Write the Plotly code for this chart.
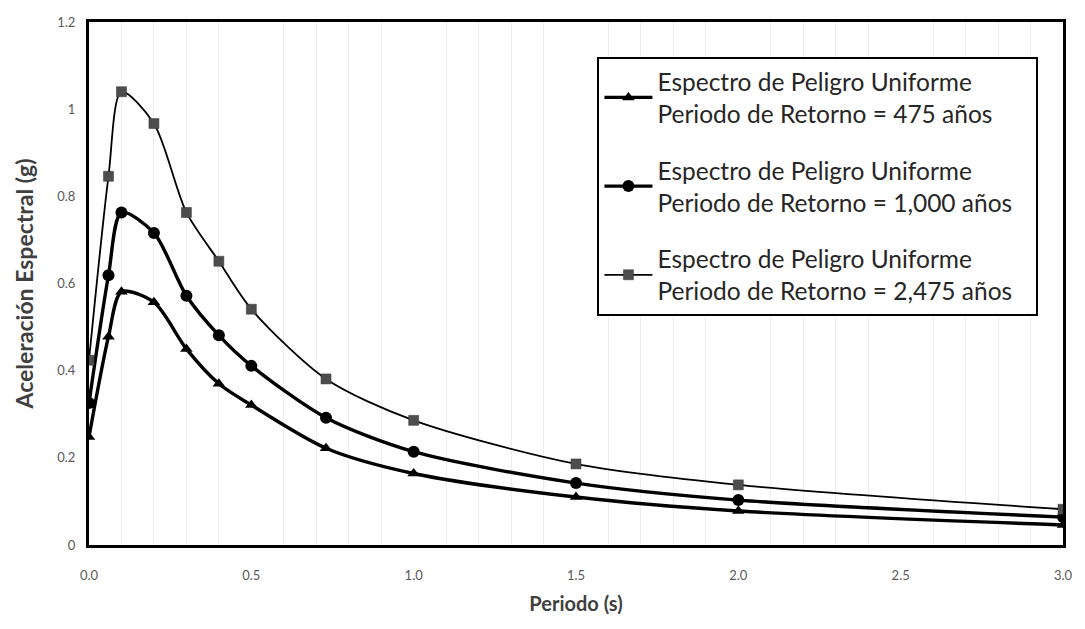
import plotly.graph_objects as go

periodo = [0.0, 0.06, 0.1, 0.2, 0.3, 0.4, 0.5, 0.73, 1.0, 1.5, 2.0, 3.0]
sa_475 = [0.248, 0.478, 0.581, 0.557, 0.450, 0.370, 0.321, 0.222, 0.164, 0.110, 0.078, 0.046]
sa_1000 = [0.326, 0.619, 0.763, 0.716, 0.572, 0.481, 0.411, 0.292, 0.214, 0.142, 0.103, 0.064]
sa_2475 = [0.424, 0.846, 1.040, 0.967, 0.763, 0.651, 0.541, 0.381, 0.286, 0.186, 0.138, 0.082]

PAD = "&nbsp;&nbsp;&nbsp;"
names = [
    "Espectro de Peligro Uniforme<br>Periodo de Retorno = 475 años",
    "Espectro de Peligro Uniforme<br>Periodo de Retorno = 1,000 años",
    "Espectro de Peligro Uniforme<br>Periodo de Retorno = 2,475 años" + PAD,
]

FONT = "Lato"

fig = go.Figure()
fig.add_trace(go.Scatter(
    x=periodo, y=sa_475, name=names[0], mode="lines+markers", legendgroup="a",
    line=dict(color="black", width=3.4, shape="spline", smoothing=0.8),
    marker=dict(symbol="triangle-up", size=11, color="black"),
))
fig.add_trace(go.Scatter(
    x=periodo, y=sa_1000, name=names[1], mode="lines+markers", legendgroup="b",
    line=dict(color="black", width=3.4, shape="spline", smoothing=0.8),
    marker=dict(symbol="circle", size=12, color="black"),
))
fig.add_trace(go.Scatter(
    x=periodo, y=sa_2475, name=names[2], mode="lines+markers", legendgroup="c",
    line=dict(color="black", width=1.8, shape="spline", smoothing=0.8),
    marker=dict(symbol="square", size=10, color="#4d4d4d", line=dict(color="#333333", width=0.5)),
))

fig.update_layout(
    width=1085, height=629,
    margin=dict(l=89, r=17, t=22, b=84),
    paper_bgcolor="white", plot_bgcolor="white",
    font=dict(family=FONT, color="#404040"),
    legend=dict(
        x=0.522, y=0.933, xanchor="left", yanchor="top",
        bordercolor="black", borderwidth=2, bgcolor="white",
        font=dict(family=FONT, size=24.5, color="#262626"),
        tracegroupgap=22, itemwidth=48,
    ),
    showlegend=True,
)
fig.update_xaxes(
    range=[0, 3.0], dtick=0.5, tick0=0, tickformat=".1f",
    showgrid=False, zeroline=False,
    showline=True, linecolor="black", linewidth=3, mirror=True,
    ticks="", ticklabelstandoff=16, tickfont=dict(family=FONT, size=13, color="#595959"),
    minor=dict(dtick=0.1, showgrid=True, gridcolor="#ececf3", gridwidth=1),
    title=dict(text="<b>Periodo (s)</b>", font=dict(family=FONT, size=20, color="#404040"), standoff=16),
)
fig.update_yaxes(
    range=[0, 1.2], dtick=0.2, tick0=0,
    showgrid=False, zeroline=False,
    showline=True, linecolor="black", linewidth=3, mirror=True,
    ticks="", ticklabelstandoff=8, tickfont=dict(family=FONT, size=13, color="#595959"),
    title=dict(text="<b>Aceleración Espectral (g)</b>", font=dict(family=FONT, size=23, color="#404040"), standoff=18),
)

fig.write_html("out.html")
